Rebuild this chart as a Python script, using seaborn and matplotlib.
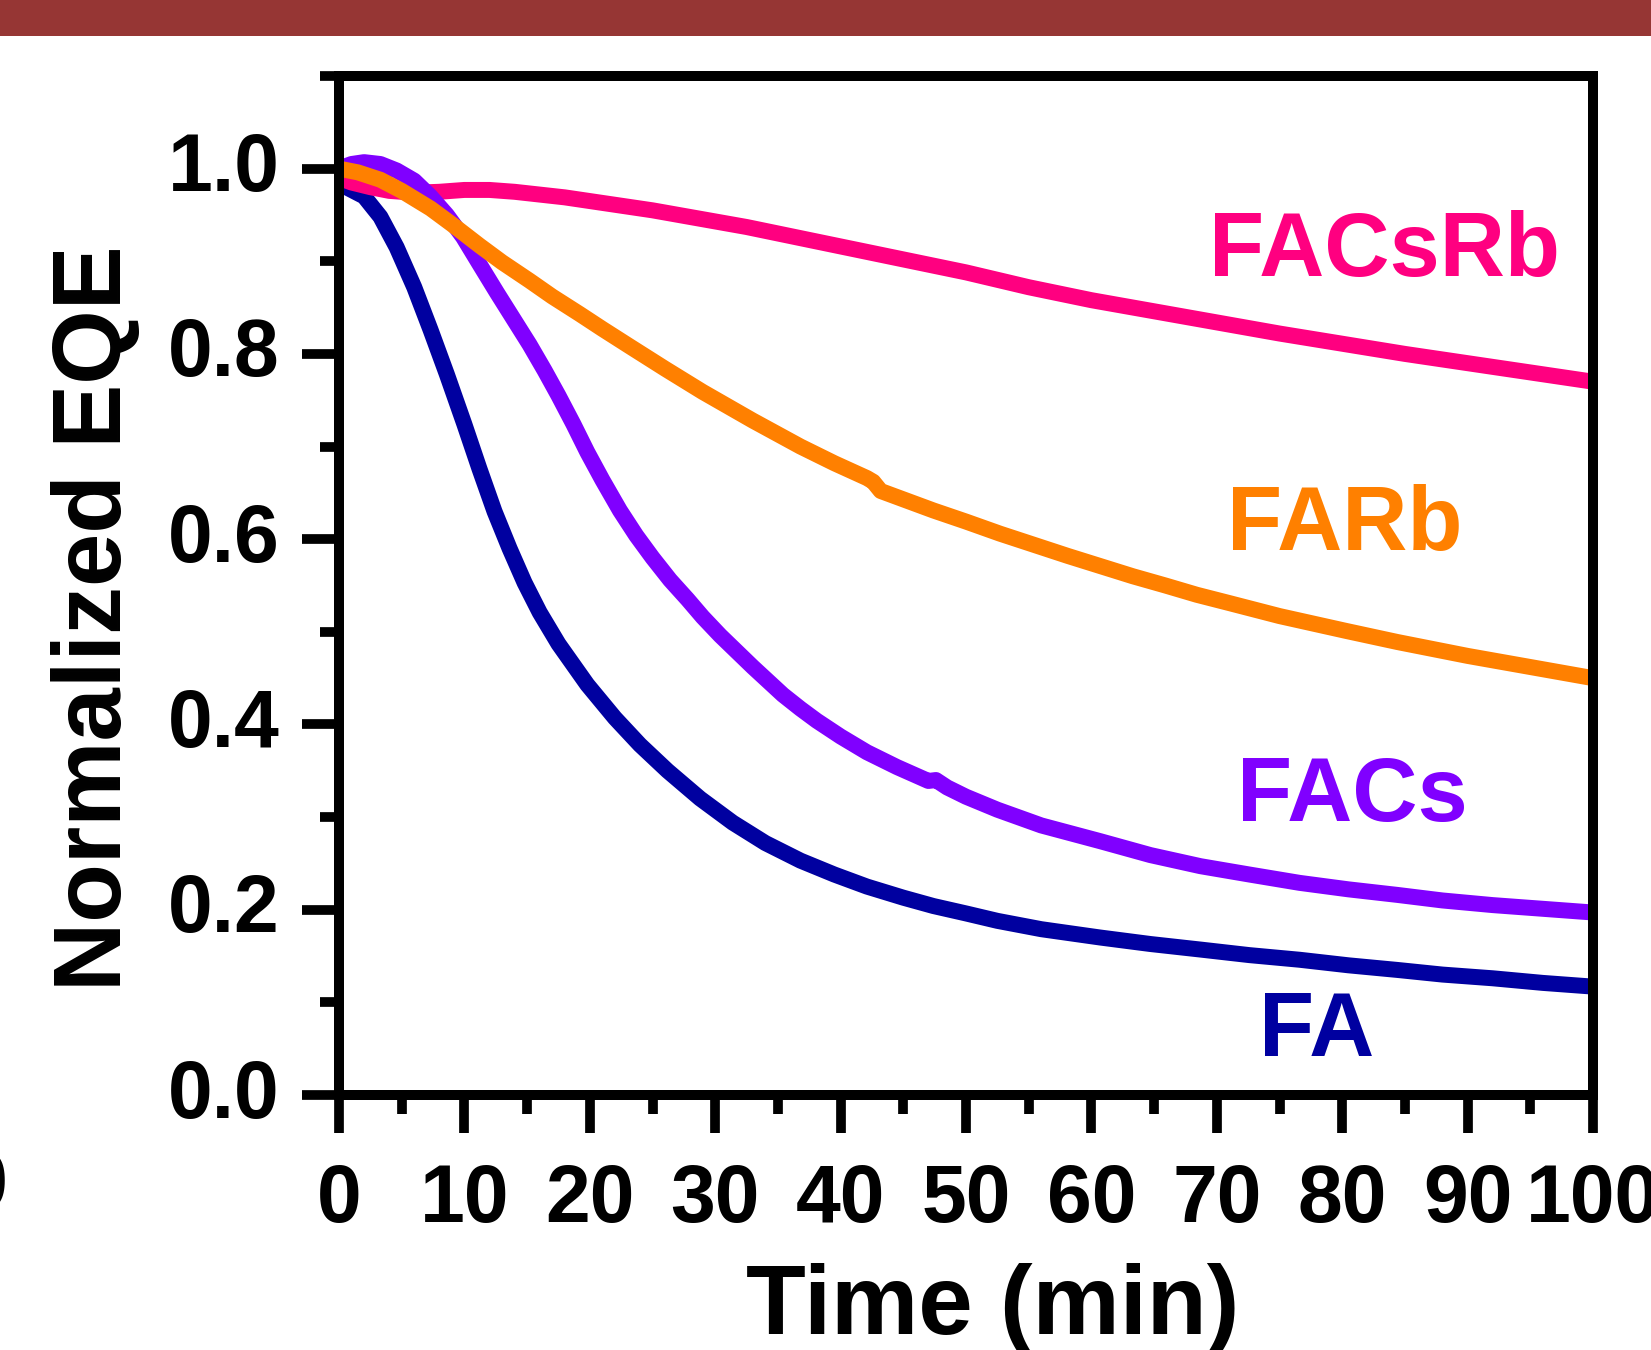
import numpy as np
import pandas as pd
import matplotlib
matplotlib.use("Agg")
import matplotlib.pyplot as plt
import matplotlib.transforms as mtransforms
import seaborn as sns
from matplotlib.ticker import FixedLocator
from matplotlib.patches import Rectangle

# ---------------- data ----------------
t_fa = [0, 2, 3.3, 4.6, 6, 7.3, 8.6, 10, 11.2, 12.4, 13.6, 14.8, 16, 17.5, 19.8,
        22, 24, 26.2, 28.8, 31.4, 34, 36.8, 39.5, 42.1, 45, 47.4, 50, 52.5, 56,
        60.7, 64.7, 68.7, 72.6, 76.6, 80.5, 84.4, 88, 92, 96, 100]
eqe_fa = [0.984, 0.970, 0.948, 0.915, 0.872, 0.826, 0.778, 0.724, 0.676, 0.630,
          0.590, 0.553, 0.521, 0.487, 0.443, 0.407, 0.378, 0.350, 0.320, 0.294,
          0.272, 0.253, 0.238, 0.225, 0.213, 0.204, 0.196, 0.188, 0.179, 0.170,
          0.163, 0.157, 0.151, 0.146, 0.140, 0.135, 0.130, 0.126, 0.121, 0.117]

t_facs = [0, 1, 2, 3.3, 4.6, 6, 7.3, 8.6, 9.9, 11.2, 12.6, 13.9, 15.2, 16.4, 17.5,
          18.7, 19.8, 21, 22.4, 23.7, 25, 26.4, 27.8, 29, 30.4, 31.7, 33, 34.2,
          35.4, 36.8, 38.1, 40, 42.1, 44.5, 47.0, 47.6, 48.5, 50, 52.5, 56, 60.7,
          64.7, 68.7, 72.6, 76.6, 80.5, 84.4, 88, 92, 96, 100]
eqe_facs = [1.000, 1.005, 1.007, 1.005, 0.998, 0.987, 0.970, 0.950, 0.926, 0.897,
            0.866, 0.838, 0.810, 0.782, 0.755, 0.724, 0.694, 0.664, 0.631, 0.604,
            0.580, 0.556, 0.535, 0.516, 0.496, 0.479, 0.462, 0.447, 0.432, 0.417,
            0.404, 0.387, 0.370, 0.354, 0.339, 0.340, 0.332, 0.322, 0.308, 0.291,
            0.274, 0.259, 0.247, 0.238, 0.229, 0.222, 0.216, 0.210, 0.205, 0.201,
            0.197]

t_farb = [0, 1.5, 3.3, 5, 7.3, 9, 11.2, 13, 15.2, 17, 19.2, 21, 23.2, 26, 29, 33,
          36.8, 39.5, 42.1, 42.6, 43.2, 45, 47.4, 50, 52.7, 55.4, 58.1, 60.7,
          63.3, 65.9, 68.4, 71, 75, 80.3, 84.4, 90, 95, 100]
eqe_farb = [1.000, 0.996, 0.988, 0.976, 0.957, 0.940, 0.917, 0.899, 0.879, 0.862,
            0.843, 0.827, 0.808, 0.784, 0.759, 0.728, 0.700, 0.682, 0.666, 0.662,
            0.652, 0.643, 0.631, 0.619, 0.606, 0.594, 0.582, 0.571, 0.560, 0.550,
            0.540, 0.531, 0.517, 0.501, 0.489, 0.474, 0.462, 0.450]

t_facsrb = [0, 1, 2.5, 4, 6, 8, 10, 12, 14, 16, 18, 20, 22.5, 25, 27.5, 30, 32.5,
            35, 37.5, 40, 42.5, 45, 47.5, 50, 52.5, 55, 57.5, 60, 65, 70, 75, 80,
            85, 90, 95, 100]
eqe_facsrb = [0.990, 0.985, 0.980, 0.976, 0.974, 0.975, 0.977, 0.977, 0.975, 0.972,
              0.969, 0.965, 0.960, 0.955, 0.949, 0.943, 0.937, 0.930, 0.923, 0.916,
              0.909, 0.902, 0.895, 0.888, 0.880, 0.872, 0.865, 0.858, 0.846, 0.834,
              0.822, 0.811, 0.800, 0.790, 0.780, 0.770]

series_names = ["FA", "FACsRb", "FACs", "FARb"]
series_t = [t_fa, t_facsrb, t_facs, t_farb]
series_eqe = [eqe_fa, eqe_facsrb, eqe_facs, eqe_farb]
series_colors = ["#0000A0", "#FF0080", "#8000FF", "#FF8000"]

label_text = ["FACsRb", "FARb", "FACs", "FA"]
label_x = [83.4, 80.2, 80.8, 78.0]
label_y = [0.884, 0.588, 0.296, 0.042]
label_colors = ["#FF0080", "#FF8000", "#8000FF", "#0000A0"]

x_major = [0, 10, 20, 30, 40, 50, 60, 70, 80, 90, 100]
x_minor = [5, 15, 25, 35, 45, 55, 65, 75, 85, 95]
y_major = [0.0, 0.2, 0.4, 0.6, 0.8, 1.0]
y_minor = [0.1, 0.3, 0.5, 0.7, 0.9, 1.1]
y_ticklabels = ["0.0", "0.2", "0.4", "0.6", "0.8", "1.0"]

# ---------------- style ----------------
sns.set_theme(style="ticks")
plt.rcParams["font.family"] = ["Liberation Sans", "DejaVu Sans"]
plt.rcParams["font.weight"] = "bold"
plt.rcParams["axes.labelweight"] = "bold"

fig = plt.figure(figsize=(16.51, 13.5), dpi=100)
fig.patch.set_facecolor("white")

# dark red band at the top of the figure
fig.patches.append(Rectangle((0, 1 - 36 / 1350), 1, 36 / 1350, transform=fig.transFigure,
                             facecolor="#963634", edgecolor="none", zorder=0))

ax = fig.add_axes([339 / 1651, 1 - 1095 / 1350, (1593 - 339) / 1651, (1095 - 76) / 1350])
ax.set_facecolor("white")

frames = []
for name, tt, ee in zip(series_names, series_t, series_eqe):
    frames.append(pd.DataFrame({"Time": tt, "EQE": ee, "Sample": name}))
df = pd.concat(frames, ignore_index=True)

for name, col in zip(series_names, series_colors):
    sub = df[df["Sample"] == name]
    sns.lineplot(data=sub, x="Time", y="EQE", color=col, ax=ax,
                 sort=True, estimator=None, legend=False)
for ln in ax.lines:
    ln.set_linewidth(11.5)
    ln.set_solid_capstyle("butt")
    ln.set_solid_joinstyle("round")

ax.set_xlim(0, 100)
ax.set_ylim(0, 1.1)

ax.xaxis.set_major_locator(FixedLocator(x_major))
ax.xaxis.set_minor_locator(FixedLocator(x_minor))
ax.yaxis.set_major_locator(FixedLocator(y_major))
ax.yaxis.set_minor_locator(FixedLocator(y_minor))
ax.set_xticklabels([str(v) for v in x_major])
ax.set_yticklabels(y_ticklabels)

for s in ax.spines.values():
    s.set_visible(True)
    s.set_linewidth(7.2)
    s.set_color("black")
    s.set_zorder(5)

ax.tick_params(axis="both", which="major", direction="out", length=27, width=7.0,
               color="black", labelsize=58, labelcolor="black")
ax.tick_params(axis="both", which="minor", direction="out", length=14, width=7.0,
               color="black")
ax.tick_params(axis="x", which="major", pad=22)
ax.tick_params(axis="y", which="major", pad=16)
for lab in ax.get_xticklabels() + ax.get_yticklabels():
    lab.set_fontweight("bold")
# small upward nudge of the y tick labels
shift = mtransforms.ScaledTranslation(0, 5 / 72, fig.dpi_scale_trans)
for lab in ax.get_yticklabels():
    lab.set_transform(lab.get_transform() + shift)

ax.set_xlabel("Time (min)", fontsize=70.5, fontweight="bold", color="black")
ax.set_ylabel("Normalized EQE", fontsize=69, fontweight="bold", color="black")
ax.xaxis.set_label_coords(0.521, -0.165)
ax.yaxis.set_label_coords(-0.158, 0.468)

for txt, xx, yy, cc in zip(label_text, label_x, label_y, label_colors):
    ax.text(xx, yy, txt, color=cc, fontsize=65, fontweight="bold",
            ha="center", va="baseline")

# partially cropped glyph at the left edge of the original picture
fig.text(8 / 1651, 1 - 1208 / 1350, "0", fontsize=57, fontweight="bold",
         ha="right", va="baseline", color="black")

fig.savefig("out.png", dpi=100, facecolor="white")
